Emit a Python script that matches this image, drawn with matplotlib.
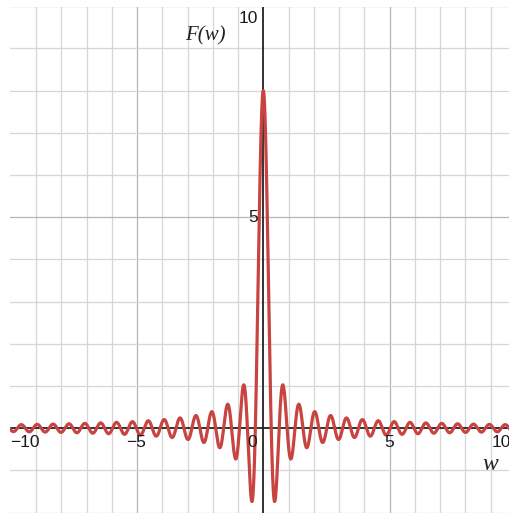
import numpy as np
import matplotlib
matplotlib.use("Agg")
import matplotlib.pyplot as plt

# the plotted function: F(w) = peak * sin(freq * w) / (freq * w)
peak = 8.0
freq = 10.0
w = np.linspace(-10.5, 10.5, 6001)
F = peak * np.sinc(freq * w / np.pi)

x_ticks = [-10, -5, 0, 5, 10]
x_tick_labels = ["\u221210", "\u22125", "0", "5", "10"]
y_ticks = [5, 10]
y_tick_labels = ["5", "10"]

fig = plt.figure(figsize=(5.10, 5.13), dpi=100)
ax = fig.add_axes([10 / 510, 0, 500 / 510, 506 / 513])
ax.set_xlim(-10.03, 9.77)
ax.set_ylim(-2.01, 9.98)

# grid: light minor lines every 1, darker lines every 5
for gx in range(-9, 11):
    if gx == 0:
        continue
    c = "#b5b5b5" if gx % 5 == 0 else "#d6d6d6"
    ax.axvline(gx, color=c, lw=0.9, zorder=0)
for gy in range(-2, 11):
    if gy == 0:
        continue
    c = "#b5b5b5" if gy % 5 == 0 else "#d6d6d6"
    ax.axhline(gy, color=c, lw=0.9, zorder=0)

ax.axhline(0, color="#222222", lw=1.3, zorder=1)
ax.axvline(0, color="#222222", lw=1.3, zorder=1)

ax.plot(w, F, color="#c74440", lw=2.3, zorder=3)

for s in ax.spines.values():
    s.set_visible(False)
ax.set_xticks([])
ax.set_yticks([])

lab = dict(fontsize=12.5, family=["Liberation Sans", "DejaVu Sans"], color="#1a1a1a")
# x tick labels (edge ones pulled inside like the original)
ax.text(-9.45, -0.33, x_tick_labels[0], ha="center", va="center", **lab)
ax.text(-5.05, -0.33, x_tick_labels[1], ha="center", va="center", **lab)
ax.text(-0.45, -0.33, x_tick_labels[2], ha="center", va="center", **lab)
ax.text(5.0, -0.33, x_tick_labels[3], ha="center", va="center", **lab)
ax.text(9.42, -0.33, x_tick_labels[4], ha="center", va="center", **lab)
# y tick labels
ax.text(-0.2, 5.0, y_tick_labels[0], ha="right", va="center", **lab)
ax.text(-0.2, 9.7, y_tick_labels[1], ha="right", va="center", **lab)

ax.text(-2.3, 9.3, "F(w)", ha="center", va="center", fontsize=15,
        family=["Liberation Serif", "DejaVu Serif"], style="italic", color="#222222")
ax.text(9.0, -0.85, "w", ha="center", va="center", fontsize=17,
        family=["Liberation Serif", "DejaVu Serif"], style="italic", color="#222222")

fig.savefig("out.png", dpi=100)
